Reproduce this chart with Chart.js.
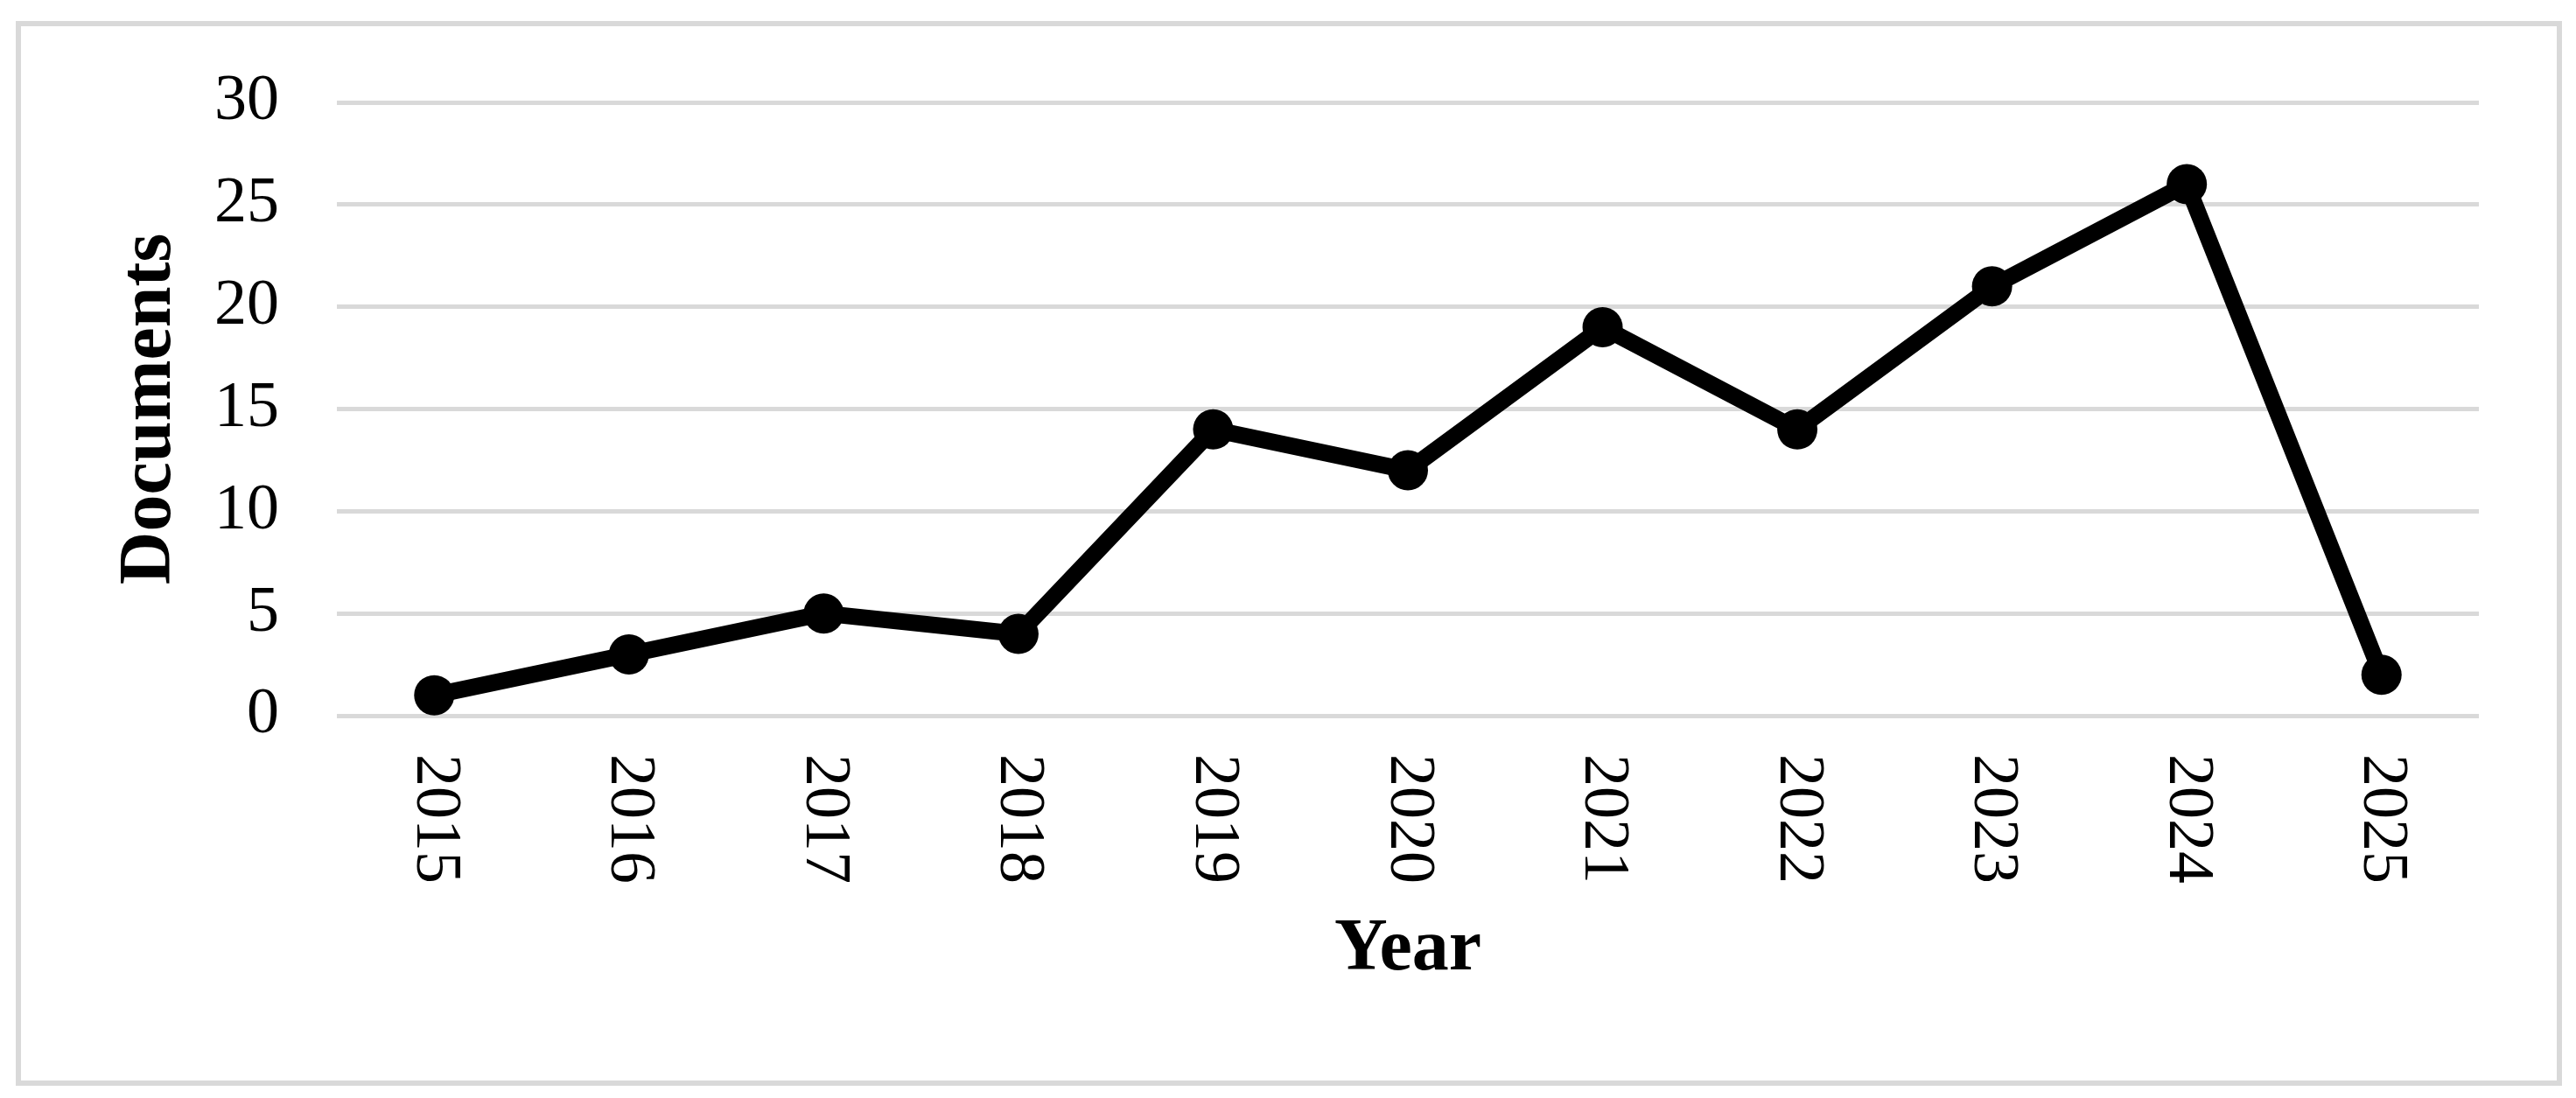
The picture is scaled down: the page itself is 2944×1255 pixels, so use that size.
<!DOCTYPE html>
<html>
<head>
<meta charset="utf-8">
<script src="https://cdn.jsdelivr.net/npm/chart.js@4.4.1/dist/chart.umd.min.js"></script>
<style>
  html, body { margin: 0; padding: 0; background: #fff; }
  canvas { display: block; }
</style>
</head>
<body>
<canvas id="docsChart" width="2944" height="1255"></canvas>
<script>
// Documents per year
const years = ['2015', '2016', '2017', '2018', '2019', '2020', '2021', '2022', '2023', '2024', '2025'];
const documents = [1, 3, 5, 4, 14, 12, 19, 14, 21, 26, 2];
const yTicks = [0, 5, 10, 15, 20, 25, 30];

const serif = '"Liberation Serif", "Times New Roman", serif';

// grey frame round the whole figure
const framePlugin = {
    id: 'frame',
    beforeDraw(chart) {
        const ctx = chart.ctx;
        ctx.save();
        ctx.fillStyle = '#fff';
        ctx.fillRect(0, 0, chart.width, chart.height);
        ctx.strokeStyle = '#d9d9d9';
        ctx.lineWidth = 6;
        ctx.strokeRect(21, 27, 2904, 1211);
        ctx.restore();
    }
};

// year labels turned to read top-to-bottom
const yearLabels = {
    id: 'yearLabels',
    afterDraw(chart) {
        const ctx = chart.ctx;
        const x = chart.scales.x;
        ctx.save();
        ctx.fillStyle = '#000';
        ctx.font = '74px ' + serif;
        ctx.textAlign = 'left';
        ctx.textBaseline = 'middle';
        years.forEach((y, i) => {
            ctx.save();
            ctx.translate(x.getPixelForTick(i), chart.chartArea.bottom + 44);
            ctx.rotate(Math.PI / 2);
            ctx.fillText(y, 0, 0);
            ctx.restore();
        });
        ctx.restore();
    }
};

new Chart(document.getElementById('docsChart'), {
    type: 'line',
    data: {
        labels: years,
        datasets: [{
            label: 'Documents',
            data: documents,
            borderColor: '#000',
            backgroundColor: '#000',
            borderWidth: 19,
            borderJoinStyle: 'round',
            borderCapStyle: 'round',
            pointRadius: 23,
            pointBorderWidth: 0,
            pointBackgroundColor: '#000',
            tension: 0,
            clip: false
        }]
    },
    options: {
        responsive: false,
        animation: false,
        layout: { padding: { top: 117, right: 111, bottom: 0, left: 0 } },
        plugins: {
            legend: { display: false },
            tooltip: { enabled: false }
        },
        scales: {
            x: {
                offset: true,
                grid: { display: false },
                border: { display: false },
                ticks: { display: false },
                title: {
                    display: true,
                    text: 'Year',
                    color: '#000',
                    font: { family: serif, size: 84, weight: 'bold' },
                    padding: { top: 0, bottom: 118 }
                },
                afterFit(scale) { scale.height = 1255 - 818; }
            },
            y: {
                min: 0,
                max: 30,
                afterBuildTicks(scale) { scale.ticks = yTicks.map(v => ({ value: v })); },
                grid: { color: '#d9d9d9', lineWidth: 5, drawTicks: false },
                border: { display: false },
                ticks: {
                    color: '#000',
                    padding: 66,
                    font: { family: serif, size: 74 }
                },
                title: {
                    display: true,
                    text: 'Documents',
                    color: '#000',
                    font: { family: serif, size: 84, weight: 'bold' },
                    padding: { top: 122, bottom: 0 }
                },
                afterFit(scale) { scale.width = 385; }
            }
        }
    },
    plugins: [framePlugin, yearLabels]
});
</script>
</body>
</html>
